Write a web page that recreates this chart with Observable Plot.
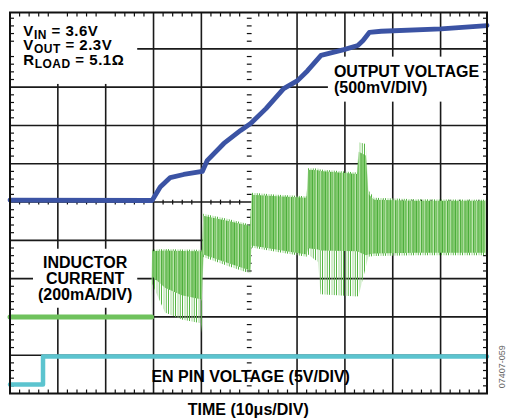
<!DOCTYPE html>
<html><head><meta charset="utf-8">
<script src="https://cdn.jsdelivr.net/npm/d3@7"></script>
<script src="https://cdn.jsdelivr.net/npm/@observablehq/plot@0.6"></script>
<style>
body{margin:0;background:#fff;}
#chart svg{display:block;}
</style></head>
<body>
<svg width="0" height="0" style="position:absolute">
<defs>
<pattern id="gDense" width="13" height="5" patternUnits="userSpaceOnUse">
<rect width="13" height="5" fill="#92d17f"/>
<rect x="0" width="0.9" height="5" fill="#45aa34"/>
<rect x="2.4" width="0.8" height="5" fill="#5cb84a"/>
<rect x="4" width="0.8" height="5" fill="#c4e8b8"/>
<rect x="5.2" width="0.9" height="5" fill="#42a731"/>
<rect x="7.3" width="0.8" height="5" fill="#6ec05c"/>
<rect x="8.5" width="0.6" height="5" fill="#cdebc2"/>
<rect x="9.6" width="0.9" height="5" fill="#48ab36"/>
<rect x="11.6" width="0.8" height="5" fill="#62ba50"/>
</pattern>
<pattern id="gSparse" width="7" height="5" patternUnits="userSpaceOnUse">
<rect x="0" width="1" height="5" fill="#55b543"/>
<rect x="2.6" width="0.8" height="5" fill="#8ccf7c"/>
<rect x="4.8" width="1" height="5" fill="#66bd54"/>
</pattern>
</defs></svg>
<div id="chart"></div>
<script>
// ---- data (x in time divisions, y in screen divisions from bottom) ----
const outputX = [0, 2.97, 3.14, 3.35, 3.63, 4.02, 4.12, 4.47, 4.82, 5.03, 5.35, 5.72, 6.01, 6.22, 6.50, 6.98, 7.27, 7.38, 7.51, 7.76, 9.01, 9.97];
const outputY = [5.05, 5.04, 5.39, 5.64, 5.72, 5.80, 6.08, 6.53, 6.87, 7.05, 7.44, 7.96, 8.17, 8.43, 8.83, 8.98, 9.09, 9.22, 9.43, 9.46, 9.52, 9.61];

const enPinX = [0, 0.69, 0.69, 9.97];
const enPinY = [0.235, 0.235, 0.966, 0.966];

const inductorFlatX = [0, 2.96];
const inductorFlatY = [2.0, 2.0];

const inductorX      = [2.96, 2.98, 3.25, 3.60, 4.00, 4.02, 4.05, 4.55, 5.03, 5.06, 5.60, 6.21, 6.24, 6.45, 6.50, 7.27, 7.30, 7.45, 7.50, 7.62, 8.50, 9.97];
const inductorLo     = [1.95, 2.85, 2.10, 1.92, 1.82, 1.57, 3.55, 3.32, 3.12, 3.80, 3.68, 3.56, 3.62, 3.42, 2.58, 2.52, 2.55, 3.30, 3.56, 3.58, 3.60, 3.60];
const inductorHi     = [2.05, 3.74, 3.76, 3.75, 3.74, 3.72, 4.68, 4.55, 4.40, 5.23, 5.18, 5.14, 5.87, 5.86, 5.84, 5.76, 6.55, 6.50, 5.30, 5.10, 5.06, 5.05];
const inductorCoreLo = [2.00, 3.05, 2.75, 2.55, 2.45, 2.40, 3.62, 3.40, 3.20, 3.85, 3.74, 3.62, 3.78, 3.75, 3.72, 3.70, 3.68, 3.60, 3.62, 3.64, 3.66, 3.66];
const inductorCoreHi = [2.00, 3.70, 3.72, 3.71, 3.70, 3.68, 4.63, 4.50, 4.36, 5.18, 5.14, 5.10, 5.83, 5.82, 5.80, 5.72, 6.30, 6.20, 5.20, 5.05, 5.02, 5.02];

const gridX = [1, 2, 3, 4, 6, 7, 8, 9];
const gridY = [1, 2, 3, 4, 5, 6, 7, 8, 9];
const conditionLines = [["V", "IN", " = 3.6V"], ["V", "OUT", " = 2.3V"], ["R", "LOAD", " = 5.1Ω"]];
const outputLabel = "OUTPUT VOLTAGE\n(500mV/DIV)";
const inductorLabel = "INDUCTOR\nCURRENT\n(200mA/DIV)";
const enLabel = "EN PIN VOLTAGE (5V/DIV)";
const timeLabel = "TIME (10μs/DIV)";
const figureCode = "07407-059";

// ---- build tables ----
const output = outputX.map((x, i) => ({x, y: outputY[i]}));
const enPin = enPinX.map((x, i) => ({x, y: enPinY[i]}));
const inductorFlat = inductorFlatX.map((x, i) => ({x, y: inductorFlatY[i]}));
const inductor = inductorX.map((x, i) => ({x, lo: inductorLo[i], hi: inductorHi[i], cLo: inductorCoreLo[i], cHi: inductorCoreHi[i]}));

const X1 = 9.97, Y1 = 9.95;
const minorX = d3.range(1, 50).map(i => i * 0.2).filter(v => v < X1 - 0.05 && Math.abs(v - Math.round(v)) > 0.01);
const minorY = d3.range(1, 50).map(i => i * 0.2).filter(v => v < Y1 - 0.05 && Math.abs(v - Math.round(v)) > 0.01);

const vbar = {draw(ctx, size) { const r = Math.sqrt(size / Math.PI); ctx.moveTo(0, -r); ctx.lineTo(0, r); }};
const hbar = {draw(ctx, size) { const r = Math.sqrt(size / Math.PI); ctx.moveTo(-r, 0); ctx.lineTo(r, 0); }};
const tk = {stroke: "#111", strokeWidth: 1.2, fill: "none"};
const font = "'Liberation Sans', Arial, Helvetica, sans-serif";
const lbl = {fontSize: 16, fontWeight: "bold", fill: "#000", lineHeight: 1.0};

const chart = Plot.plot({
  width: 506, height: 419,
  marginLeft: 9.5, marginRight: 19.5, marginTop: 12, marginBottom: 26,
  x: {domain: [0, X1], axis: null},
  y: {domain: [0, Y1], axis: null},
  style: {fontFamily: font, background: "white", overflow: "visible"},
  marks: [
    Plot.ruleX(gridX, {stroke: "#1a1a1a", strokeWidth: 1.6}),
    Plot.ruleY(gridY, {stroke: "#1a1a1a", strokeWidth: 1.6}),
    Plot.dot(minorX, {x: d => d, y: Y1, symbol: vbar, r: 2, dy: 2, ...tk}),
    Plot.dot(minorX, {x: d => d, y: 0, symbol: vbar, r: 2, dy: -2, ...tk}),
    Plot.dot(minorX, {x: d => d, y: 5, symbol: vbar, r: 2.4, ...tk}),
    Plot.dot(minorY, {x: 0, y: d => d, symbol: hbar, r: 2, dx: 2, ...tk}),
    Plot.dot(minorY, {x: X1, y: d => d, symbol: hbar, r: 2, dx: -2, ...tk}),
    Plot.dot(minorY, {x: 5, y: d => d, symbol: hbar, r: 2.4, ...tk}),
    Plot.areaY(inductor, {x: "x", y1: "lo", y2: "hi", fill: "url(#gSparse)"}),
    Plot.areaY(inductor, {x: "x", y1: "cLo", y2: "cHi", fill: "url(#gDense)"}),
    Plot.line(inductorFlat, {x: "x", y: "y", stroke: "#6fc25d", strokeWidth: 5}),
    Plot.line(output, {x: "x", y: "y", stroke: "#3b53a4", strokeWidth: 4.8}),
    Plot.line(enPin, {x: "x", y: "y", stroke: "#5cc4cf", strokeWidth: 4.5}),
    Plot.frame({stroke: "#111", strokeWidth: 2}),
    Plot.text([outputLabel], {x: 6.77, y: 8.2, text: d => d, textAnchor: "start", ...lbl}),
    Plot.text([inductorLabel], {x: 1.57, y: 3.0, text: d => d, textAnchor: "middle", ...lbl}),
    Plot.text([enLabel], {x: 5.03, y: 0.43, text: d => d, textAnchor: "middle", ...lbl}),
    Plot.text([timeLabel], {x: 4.98, y: -0.44, text: d => d, textAnchor: "middle", ...lbl}),
    Plot.text([figureCode], {x: 10.29, y: 0.7, text: d => d, rotate: -90, fontSize: 9, fill: "#666", textAnchor: "middle"})
  ]
});
document.getElementById("chart").append(chart);

// ---- conditions block with subscripts ----
const xs = chart.scale("x"), ys = chart.scale("y");
const svg = d3.select(chart);
const cond = svg.append("text")
  .attr("font-family", font).attr("font-weight", "bold").attr("font-size", 15)
  .attr("letter-spacing", 0.5).attr("fill", "#000").attr("text-anchor", "start");
conditionLines.forEach((parts, i) => {
  cond.append("tspan").attr("x", xs.apply(0.29)).attr("y", ys.apply(9.33) + i * 14.6).text(parts[0]);
  cond.append("tspan").attr("font-size", 12).attr("dy", 3).text(parts[1]);
  cond.append("tspan").attr("dy", -3).text(parts[2]);
});

// ---- white boxes behind labels (above grid, below ticks/traces) ----
const base = chart.getBoundingClientRect();
const groups = chart.querySelectorAll(":scope > g");
const boxLayer = document.createElementNS("http://www.w3.org/2000/svg", "g");
groups[1].after(boxLayer);
const texts = Array.from(chart.querySelectorAll("text"));
const boxed = [["OUTPUT", 6], ["INDUCTOR", 5], ["EN PIN", 5], ["VIN", 13]];
boxed.forEach(([key, pad]) => {
  const el = texts.find(t => t.textContent.replace(/\s/g, "").startsWith(key));
  if (!el) return;
  const r = el.getBoundingClientRect();
  d3.select(boxLayer).append("rect")
    .attr("x", r.left - base.left - pad).attr("y", r.top - base.top - pad)
    .attr("width", r.width + 2 * pad).attr("height", r.height + 2 * pad)
    .attr("fill", "white");
});
</script>
</body></html>
